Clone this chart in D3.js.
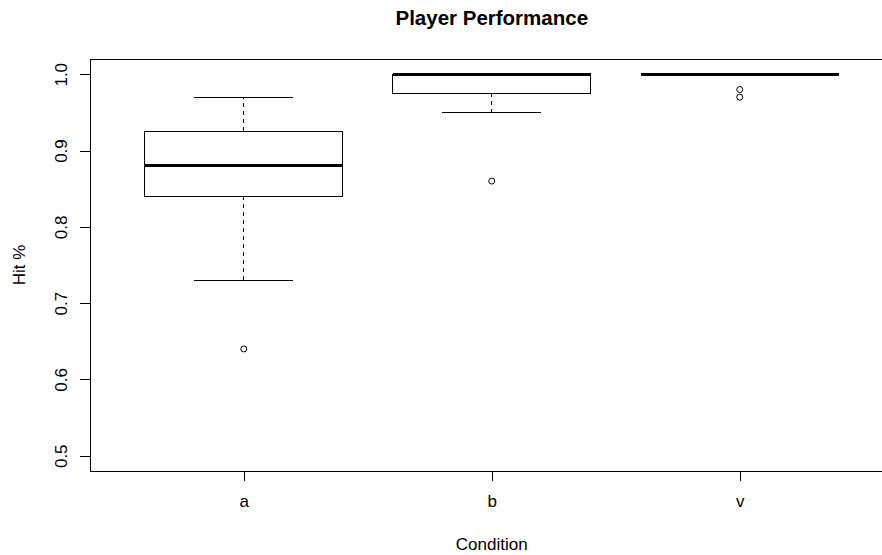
<!DOCTYPE html>
<html>
<head>
<meta charset="utf-8">
<script src="https://cdn.jsdelivr.net/npm/d3@7"></script>
<style>
  body { margin: 0; background: #fff; }
  svg { display: block; }
  text { font-family: "Liberation Sans", Arial, sans-serif; fill: #000; }
  line, rect { shape-rendering: crispEdges; }
</style>
</head>
<body>
<div id="chart"></div>
<script>
// summary stats
var categories = ["a", "b", "v"];
var whiskerLow = [0.73, 0.95, 1.0];
var q1 = [0.84, 0.975, 1.0];
var median = [0.88, 1.0, 1.0];
var q3 = [0.925, 1.0, 1.0];
var whiskerHigh = [0.97, 1.0, 1.0];
var outliers = [[0.64], [0.86], [0.98, 0.97]];
var yTicks = [0.5, 0.6, 0.7, 0.8, 0.9, 1.0];

var width = 882;
var height = 555;
var plotLeft = 90, plotTop = 59, plotBottom = 471;

var boxes = categories.map(function(c, i) {
  return {
    name: c, pos: i + 1,
    lo: whiskerLow[i], q1: q1[i], med: median[i], q3: q3[i], hi: whiskerHigh[i],
    out: outliers[i]
  };
});

/* Scale -- R style: xlim 0.5..3.5 and ylim 0.5..1 padded by 4% */
var xScale = d3.scaleLinear()
  .domain([0.38, 3.62])
  .range([plotLeft, plotLeft + 3.24 * 248]);

var yScale = d3.scaleLinear()
  .domain([0.48, 1.02])
  .range([plotBottom, plotTop]);

var svg = d3.select("#chart").append("svg")
  .attr("width", width)
  .attr("height", height);

var boxW = xScale(1.4) - xScale(1);   // half box width (0.4)
var capW = xScale(1.2) - xScale(1);   // half staple width

var g = svg.selectAll(".box")
  .data(boxes).enter()
  .append("g")
  .attr("class", "box");

// dashed whiskers
g.append("line")
  .attr("x1", d => xScale(d.pos)).attr("x2", d => xScale(d.pos))
  .attr("y1", d => yScale(d.q3)).attr("y2", d => yScale(d.hi))
  .attr("stroke", "#000").attr("stroke-dasharray", "4,4");
g.append("line")
  .attr("x1", d => xScale(d.pos)).attr("x2", d => xScale(d.pos))
  .attr("y1", d => yScale(d.q1)).attr("y2", d => yScale(d.lo))
  .attr("stroke", "#000").attr("stroke-dasharray", "4,4");

// staples
g.selectAll(".cap")
  .data(d => [d.lo, d.hi].map(v => ({pos: d.pos, v: v}))).enter()
  .append("line")
  .attr("x1", d => xScale(d.pos) - capW).attr("x2", d => xScale(d.pos) + capW)
  .attr("y1", d => yScale(d.v)).attr("y2", d => yScale(d.v))
  .attr("stroke", "#000");

// box
g.append("rect")
  .attr("x", d => xScale(d.pos) - boxW)
  .attr("width", 2 * boxW)
  .attr("y", d => yScale(d.q3))
  .attr("height", d => yScale(d.q1) - yScale(d.q3))
  .attr("fill", "#fff")
  .attr("stroke", "#000");

// median
g.append("line")
  .attr("x1", d => xScale(d.pos) - boxW).attr("x2", d => xScale(d.pos) + boxW)
  .attr("y1", d => yScale(d.med)).attr("y2", d => yScale(d.med))
  .attr("stroke", "#000").attr("stroke-width", 3);

// outliers
g.selectAll("circle")
  .data(d => d.out.map(v => ({pos: d.pos, v: v}))).enter()
  .append("circle")
  .attr("cx", d => xScale(d.pos))
  .attr("cy", d => yScale(d.v))
  .attr("r", 3)
  .attr("fill", "none")
  .attr("stroke", "#000");

/* frame */
svg.append("rect")
  .attr("x", plotLeft).attr("y", plotTop)
  .attr("width", xScale(3.62) - plotLeft)
  .attr("height", plotBottom - plotTop)
  .attr("fill", "none")
  .attr("stroke", "#000");

/* axes */
var yAxis = d3.axisLeft(yScale).tickValues(yTicks).tickSize(10).tickFormat(d3.format(".1f"));
var ya = svg.append("g")
  .attr("transform", `translate(${plotLeft},0)`)
  .call(yAxis);
ya.select(".domain").remove();
ya.selectAll("text")
  .attr("x", null).attr("dy", null)
  .attr("transform", "translate(-23,0) rotate(-90)")
  .attr("text-anchor", "middle")
  .style("font-size", "17px")
  .style("font-family", "Liberation Sans, Arial, sans-serif")
  .attr("fill", "#000");

var xAxis = d3.axisBottom(xScale).tickValues([1, 2, 3]).tickSize(10)
  .tickFormat((d, i) => categories[i]);
var xa = svg.append("g")
  .attr("transform", `translate(0,${plotBottom})`)
  .call(xAxis);
xa.select(".domain").remove();
xa.selectAll("text")
  .attr("y", 36).attr("dy", null)
  .style("font-size", "17px")
  .style("font-family", "Liberation Sans, Arial, sans-serif")
  .attr("fill", "#000");

/* titles */
var midX = (xScale(0.38) + xScale(3.62)) / 2;
svg.append("text")
  .attr("x", midX).attr("y", 25)
  .attr("text-anchor", "middle")
  .style("font-size", "20.5px")
  .style("font-weight", "bold")
  .text("Player Performance");

svg.append("text")
  .attr("x", midX).attr("y", 550)
  .attr("text-anchor", "middle")
  .style("font-size", "17px")
  .text("Condition");

svg.append("text")
  .attr("transform", `translate(25,${(plotTop + plotBottom) / 2}) rotate(-90)`)
  .attr("text-anchor", "middle")
  .style("font-size", "17px")
  .text("Hit %");
</script>
</body>
</html>
